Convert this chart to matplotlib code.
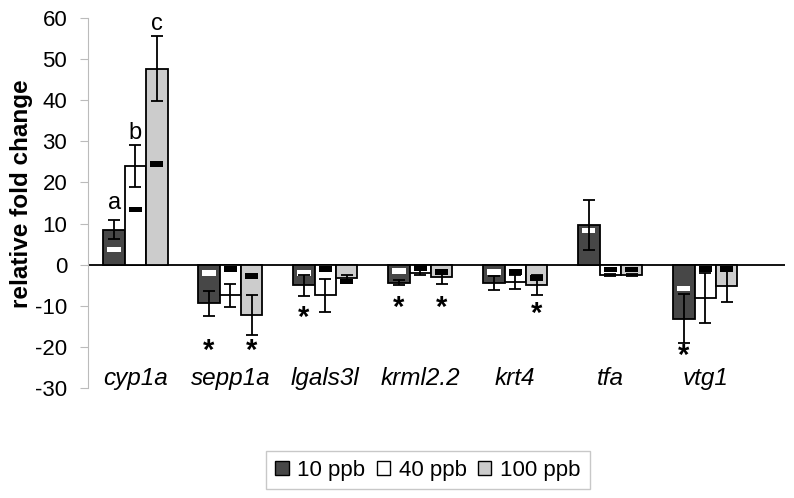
import matplotlib
matplotlib.use("Agg")
import matplotlib.pyplot as plt
import numpy as np
from matplotlib.patches import Patch

plt.rcParams['font.family'] = ['Liberation Sans', 'DejaVu Sans']
plt.rcParams['axes.unicode_minus'] = False

genes = ["cyp1a", "sepp1a", "lgals3l", "krml2.2", "krt4", "tfa", "vtg1"]
series = ["10 ppb", "40 ppb", "100 ppb"]

# bar means
v10 = [8.5, -9.4, -5.0, -4.4, -4.4, 9.7, -13.1]
v40 = [24.0, -7.5, -7.4, -2.0, -4.2, -2.5, -8.1]
v100 = [47.7, -12.3, -3.2, -3.1, -5.0, -2.5, -5.2]
# error (symmetric)
e10 = [2.3, 3.0, 2.6, 0.6, 1.7, 6.1, 5.9]
e40 = [5.1, 2.9, 4.0, 0.6, 1.8, 0.3, 6.1]
e100 = [8.0, 4.9, 0.6, 1.6, 2.4, 0.3, 4.0]
# inner markers
m10 = [3.7, -2.1, -2.1, -1.5, -1.7, 8.3, -5.8]
m40 = [13.4, -1.0, -1.1, -0.8, -1.7, -1.2, -1.0]
m100 = [24.5, -2.7, -4.1, -1.7, -3.2, -1.2, -1.0]

# letters over cyp1a bars
letters = ["a", "b", "c"]
letter_y = [15.0, 32.0, 58.5]

# asterisks: (gene index, series index, y)
star_gene = [1, 1, 2, 3, 3, 4, 6]
star_series = [0, 2, 0, 0, 2, 2, 0]
star_y = [-21.0, -21.0, -13.0, -10.5, -10.5, -12.0, -22.2]

colors = ["#474747", "#ffffff", "#cccccc"]
marker_colors = ["#ffffff", "#000000", "#000000"]

vals = [v10, v40, v100]
errs = [e10, e40, e100]
marks = [m10, m40, m100]

fig = plt.figure(figsize=(7.94, 4.98), dpi=100)
ax = fig.add_axes([0.1108, 0.2209, 0.8778, 0.743])

x = np.arange(len(genes))
bw = 0.225
offsets = [-bw, 0, bw]
for i in range(3):
    xs = x + offsets[i]
    ax.bar(xs, vals[i], width=bw, color=colors[i], edgecolor="black",
           linewidth=1.3, zorder=2)
    ax.errorbar(xs, vals[i], yerr=errs[i], fmt="none", ecolor="black",
                elinewidth=1.3, capsize=4.5, capthick=1.3, zorder=4)
    mh = 1.4
    ax.bar(xs, [mh] * len(genes), bottom=np.array(marks[i]) - mh / 2,
           width=bw * 0.62, color=marker_colors[i], linewidth=0, zorder=3)

for i, (lt, ly) in enumerate(zip(letters, letter_y)):
    ax.text(0 + offsets[i], ly, lt, ha="center", va="center", fontsize=17)

for g, s, y in zip(star_gene, star_series, star_y):
    ax.text(g + offsets[s], y, "*", ha="center", va="center", fontsize=21,
            fontweight="bold")

for i, g in enumerate(genes):
    ax.text(i, -27.8, g, ha="center", va="center", fontsize=17.5, style="italic")

ax.axhline(0, color="black", linewidth=1.3, zorder=1)
ax.set_xlim(-0.5, 6.84)
ax.set_ylim(-30, 60)
ax.set_yticks(np.arange(-30, 61, 10))
ax.tick_params(axis="y", labelsize=16, length=6, color="#bbbbbb", pad=9)
ax.set_xticks([])
for sp in ["top", "right", "bottom"]:
    ax.spines[sp].set_visible(False)
ax.spines["left"].set_color("#bbbbbb")
ax.set_ylabel("relative fold change", fontsize=17.5, fontweight="bold")
ax.yaxis.set_label_coords(-0.0947, 0.526)
ax.yaxis.label.set_va("center")

handles = [Patch(facecolor=c, edgecolor="black", linewidth=1.0) for c in colors]
leg = fig.legend(handles, series, loc="center", bbox_to_anchor=(428 / 794, 1 - 470 / 498),
                 ncol=3, fontsize=16, frameon=True, fancybox=False,
                 handlelength=0.6, handleheight=0.6, handletextpad=0.4,
                 columnspacing=0.5, borderpad=0.4)
leg.get_frame().set_edgecolor("#bbbbbb")
leg.get_frame().set_linewidth(1.0)

fig.savefig("out.png", dpi=100)
